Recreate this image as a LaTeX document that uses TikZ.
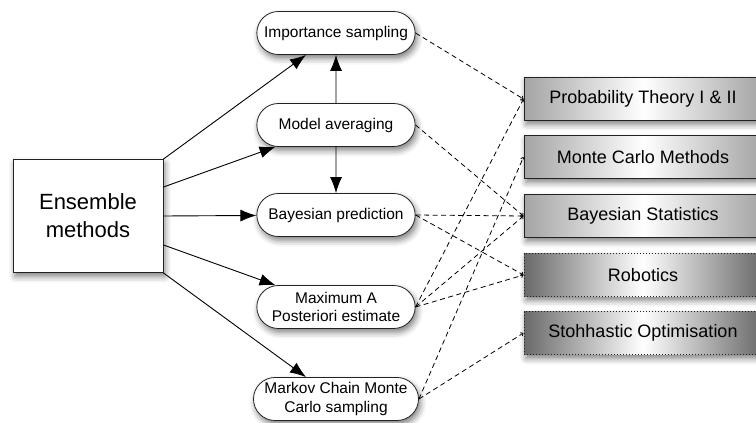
\documentclass[tikz,border=0pt]{standalone}
\usepackage{fontspec}
\setmainfont{Liberation Sans}
\usetikzlibrary{arrows.meta,shadows.blur,shapes.misc}
\definecolor{lightshade}{HTML}{A4A4A4}
\definecolor{darkshade}{HTML}{6A6A6A}
\definecolor{edge}{HTML}{222222}

\begin{document}
\begin{tikzpicture}[x=1pt,y=-1pt,
  softshadow/.style={blur shadow={shadow xshift=2pt,shadow yshift=-4pt,shadow blur radius=6pt,shadow opacity=50}},
  pill/.style={draw=edge,rounded rectangle,fill=white,minimum width=165pt,minimum height=43pt,
    align=center,font=\fontsize{15.5}{18.5}\selectfont,line width=0.8pt,softshadow},
  topic/.style={draw=edge,minimum width=238pt,minimum height=43pt,font=\fontsize{18}{21}\selectfont,
    left color=lightshade,right color=lightshade,middle color=white,line width=1pt,softshadow},
  topicdot/.style={topic,dotted,left color=darkshade,right color=darkshade,middle color=white},
  arr/.style={line width=0.9pt,-{Latex[length=16pt,width=12pt]}},
  link/.style={line width=0.8pt,dash pattern=on 5pt off 3.5pt,-{Straight Barb[length=2pt]}}]
\useasboundingbox (0,0) rectangle (756,423);

% the ensemble box
\node[draw=edge,fill=white,minimum width=150pt,minimum height=113pt,align=center,
  font=\fontsize{22}{28}\selectfont,line width=0.9pt,softshadow] (ens) at (88,216) {Ensemble\\methods};

% methods
\node[pill] (is) at (336,33) {Importance sampling};
\node[pill] (ma) at (336,125) {Model averaging};
\node[pill] (bp) at (336,215) {Bayesian prediction};
\node[pill] (map) at (336,307) {Maximum A\\Posteriori estimate};
\node[pill] (mcmc) at (336,399) {Markov Chain Monte\\Carlo sampling};

% courses
\node[topic] (prob) at (643,99) {Probability Theory I \& II};
\node[topic] (mc) at (643,157) {Monte Carlo Methods};
\node[topic] (bstat) at (643,216) {Bayesian Statistics};
\node[topicdot] (rob) at (643,275) {Robotics};
\node[topicdot] (opt) at (643,333) {Stohhastic Optimisation};

\draw[arr] (ens.north east) -- (is);
\draw[arr] (ens.21) -- (ma);
\draw[arr] (ens.east) -- (bp);
\draw[arr] (ens.-21) -- (map);
\draw[arr] (ens.south east) -- (mcmc);
\draw[arr] (ma) -- (is);
\draw[arr] (ma) -- (bp);

\foreach \a/\b in {is/prob,ma/bstat,bp/bstat,bp/rob,map/prob,map/bstat,map/rob,mcmc/mc,mcmc/opt}
  \draw[link] (\a.east) -- (\b.west);
\end{tikzpicture}
\end{document}
